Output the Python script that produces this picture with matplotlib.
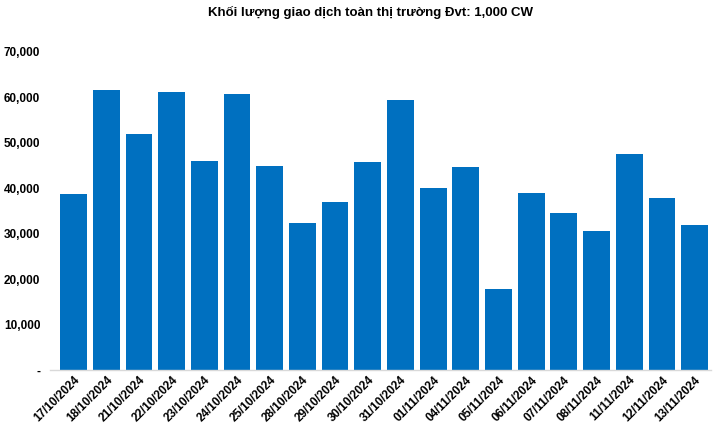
import matplotlib
matplotlib.use("Agg")
import matplotlib.pyplot as plt
from matplotlib.ticker import FuncFormatter

dates = ["17/10/2024", "18/10/2024", "21/10/2024", "22/10/2024", "23/10/2024",
         "24/10/2024", "25/10/2024", "28/10/2024", "29/10/2024", "30/10/2024",
         "31/10/2024", "01/11/2024", "04/11/2024", "05/11/2024", "06/11/2024",
         "07/11/2024", "08/11/2024", "11/11/2024", "12/11/2024", "13/11/2024"]
volumes = [38770, 61700, 52000, 61200, 46000, 60800, 44900, 32400, 37000, 45800,
           59500, 40100, 44700, 17800, 39000, 34600, 30600, 47600, 37900, 31900]
title = "Khối lượng giao dịch toàn thị trường Đvt: 1,000 CW"

plt.rcParams['font.family'] = ['Liberation Sans', 'DejaVu Sans']

fig = plt.figure(figsize=(7.19, 4.30), dpi=100)
ax = fig.add_axes([50/719, 1-370/430, 661/719, 318/430])
x = list(range(len(dates)))
ax.bar(x, volumes, width=0.82, color="#0070C0")
ax.set_xlim(-0.72, len(dates) - 0.5)
ax.set_ylim(0, 70000)
ax.set_yticks(range(0, 70001, 10000))
ax.yaxis.set_major_formatter(FuncFormatter(lambda v, p: "-" if v == 0 else f"{int(v):,}"))
ax.set_xticks(x)
ax.set_xticklabels(dates, rotation=45, ha="right", rotation_mode="anchor")
for lab in ax.get_xticklabels() + ax.get_yticklabels():
    lab.set_fontsize(8.5)
    lab.set_fontweight("bold")
    lab.set_color("#000000")
ax.tick_params(axis="both", length=0)
ax.tick_params(axis="y", pad=7)
ax.tick_params(axis="x", pad=3)
for s in ["top", "right", "left"]:
    ax.spines[s].set_visible(False)
ax.spines["bottom"].set_color("#D9D9D9")
ax.spines["bottom"].set_linewidth(1)
fig.text(371/719, 1-12/430, title, ha="center", va="center", fontsize=9.5, fontweight="bold")
fig.savefig("out.png", dpi=100)
